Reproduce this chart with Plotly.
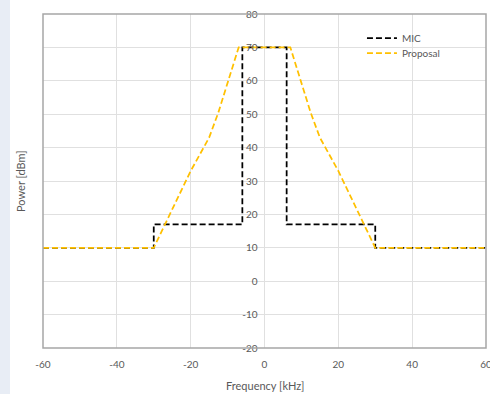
import plotly.graph_objects as go

mic_freq = [-60, -30, -30, -6, -6, 6, 6, 30, 30, 60]
mic_power = [10, 10, 17, 17, 70, 70, 17, 17, 10, 10]

proposal_freq = [-60, -30, -20, -15, -12.5, -7, 7, 12.5, 15, 20, 30, 60]
proposal_power = [10, 10, 33, 43, 50.5, 70, 70, 50.5, 43, 33, 10, 10]

x_ticks = [-60, -40, -20, 0, 20, 40, 60]
y_ticks = [-20, -10, 0, 10, 20, 30, 40, 50, 60, 70, 80]

FONT = "Lato"
GRAY = "#595959"

fig = go.Figure()
fig.add_trace(go.Scatter(x=mic_freq, y=mic_power, mode="lines", name="MIC", legend="legend",
                         line=dict(color="#000000", width=1.75, dash="6px,3px")))
fig.add_trace(go.Scatter(x=proposal_freq, y=proposal_power, mode="lines", name="Proposal",
                         legend="legend2",
                         line=dict(color="#FFC000", width=1.75, dash="6px,3px")))

leg = dict(xanchor="left", yanchor="middle", bgcolor="rgba(0,0,0,0)",
           font=dict(family=FONT, size=10, color=GRAY), itemwidth=30)

fig.update_layout(
    width=490, height=394,
    margin=dict(l=43, r=4, t=14, b=46, autoexpand=False),
    paper_bgcolor="white", plot_bgcolor="white",
    font=dict(family=FONT, size=10, color=GRAY),
    showlegend=True,
    legend=dict(leg, x=0.72, y=0.928),
    legend2=dict(leg, x=0.72, y=0.883),
    xaxis=dict(range=[-60, 60], tickvals=x_ticks, ticktext=[str(v) for v in x_ticks],
               showgrid=True, gridcolor="#e0e0e0", gridwidth=1, zeroline=False,
               showline=False, ticks="outside", ticklen=7, tickcolor="rgba(0,0,0,0)",
               automargin=False, ticklabeloverflow="allow",
               tickfont=dict(family=FONT, size=10, color=GRAY)),
    yaxis=dict(range=[-20, 80], tickvals=y_ticks, ticktext=[str(v) for v in y_ticks],
               showgrid=True, gridcolor="#e0e0e0", gridwidth=1, zeroline=False,
               showline=False, anchor="free", position=0.5, side="left",
               ticks="outside", ticklen=5, tickcolor="rgba(0,0,0,0)", automargin=False,
               ticklabeloverflow="allow",
               tickfont=dict(family=FONT, size=10, color=GRAY)),
    shapes=[
        dict(type="rect", xref="paper", yref="paper", x0=-0.0971, x1=-0.0745,
             y0=-0.2, y1=1.1, fillcolor="#e8edf5", line=dict(width=0), layer="below"),
        dict(type="rect", xref="paper", yref="paper", x0=0, x1=1, y0=0, y1=1,
             line=dict(color="#a6a6a6", width=1.5), fillcolor="rgba(0,0,0,0)", layer="above"),
    ],
    annotations=[
        dict(text="Frequency [kHz]", xref="paper", yref="paper", x=0.5, y=-0.111,
             xanchor="center", yanchor="middle", showarrow=False,
             font=dict(family=FONT, size=11, color=GRAY)),
        dict(text="Power [dBm]", xref="paper", yref="paper", x=-0.052, y=0.5,
             xanchor="center", yanchor="middle", textangle=-90, showarrow=False,
             font=dict(family=FONT, size=11, color=GRAY)),
    ],
)

fig.write_html("out.html", config={"displayModeBar": False},
               post_script="document.body.style.margin='0';document.body.style.padding='0';")
